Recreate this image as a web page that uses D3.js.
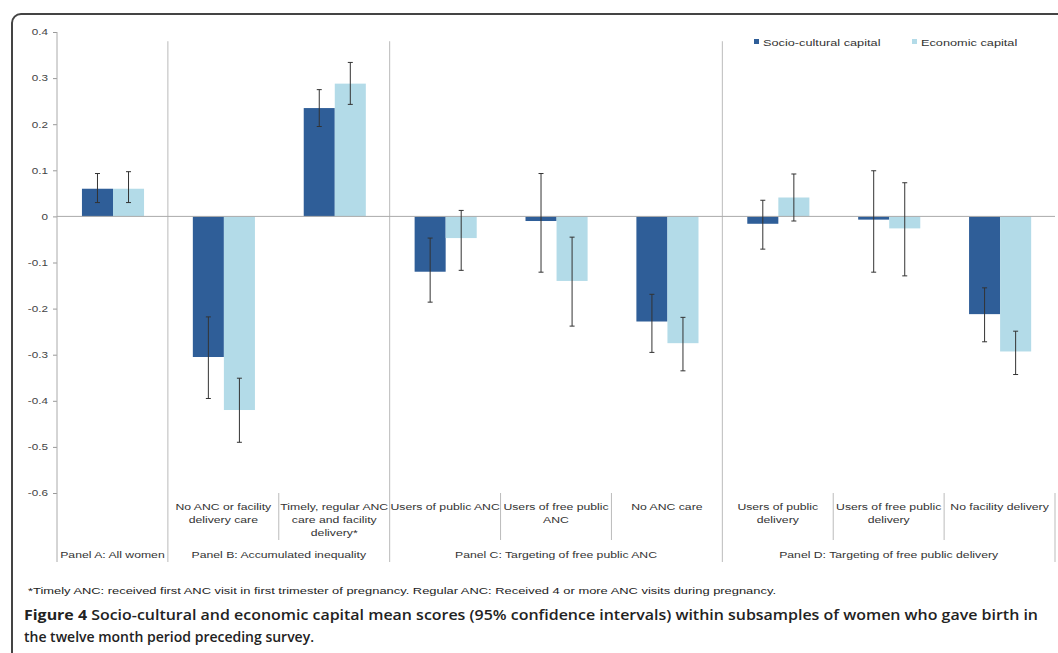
<!DOCTYPE html>
<html>
<head>
<meta charset="utf-8">
<script src="https://cdn.jsdelivr.net/npm/d3@7"></script>
<style>
  body { margin: 0; background: #fff; }
  svg { display: block; }
</style>
</head>
<body>
<div id="chart"></div>
<script>
// data
const categories = [
  "Panel A: All women",
  "No ANC or facility delivery care",
  "Timely, regular ANC care and facility delivery*",
  "Users of public ANC",
  "Users of free public ANC",
  "No ANC care",
  "Users of public delivery",
  "Users of free public delivery",
  "No facility delivery"
];
// lines shown under each category
const categoryLines = [
  [],
  ["No ANC or facility", "delivery care"],
  ["Timely, regular ANC", "care and facility", "delivery*"],
  ["Users of public ANC"],
  ["Users of free public", "ANC"],
  ["No ANC care"],
  ["Users of public", "delivery"],
  ["Users of free public", "delivery"],
  ["No facility delivery"]
];
const panelNames = [
  "Panel A: All women",
  "Panel B: Accumulated inequality",
  "Panel C: Targeting of free public ANC",
  "Panel D: Targeting of free public delivery"
];
const panelSizes = [1, 2, 3, 3];
const seriesNames = ["Socio-cultural capital", "Economic capital"];

const socioMean = [0.06, -0.305, 0.235, -0.12, -0.01, -0.228, -0.016, -0.007, -0.212];
const socioLow  = [0.03, -0.395, 0.195, -0.186, -0.121, -0.295, -0.071, -0.121, -0.272];
const socioHigh = [0.093, -0.218, 0.275, -0.047, 0.093, -0.169, 0.035, 0.099, -0.155];

const econMean = [0.06, -0.42, 0.288, -0.047, -0.14, -0.275, 0.041, -0.026, -0.293];
const econLow  = [0.03, -0.49, 0.243, -0.117, -0.238, -0.335, -0.01, -0.129, -0.343];
const econHigh = [0.097, -0.351, 0.334, 0.013, -0.045, -0.219, 0.092, 0.073, -0.249];

const yTicks = [0.4, 0.3, 0.2, 0.1, 0, -0.1, -0.2, -0.3, -0.4, -0.5, -0.6];

const footnote = "*Timely ANC: received first ANC visit in first trimester of pregnancy. Regular ANC: Received 4 or more ANC visits during pregnancy.";
const captionBold = "Figure 4";
const captionLine1 = " Socio-cultural and economic capital mean scores (95% confidence intervals) within subsamples of women who gave birth in";
const captionLine2 = "the twelve month period preceding survey.";

(function () {
  const W = 1058, H = 653;
  const colors = ["#2f5e98", "#b3dbe8"];
  const font = "'Liberation Sans', Arial, sans-serif";
  // the source image is stretched sideways, so chart text is widened
  const stretch = 1.3;

  const svg = d3.select("#chart").append("svg")
    .attr("width", W).attr("height", H);

  // figure frame with rounded corner, clipped by the page edge
  svg.append("rect")
    .attr("x", 12).attr("y", 14)
    .attr("width", 1080).attr("height", 720)
    .attr("rx", 9)
    .style("fill", "none")
    .style("stroke", "#444")
    .style("stroke-width", 2);

  const plotLeft = 57, plotRight = 1055, plotTop = 32, plotBottom = 493;
  const axisBottom = 562;

  const y = d3.scaleLinear().domain([-0.6, 0.4]).range([plotBottom, plotTop]);
  const x = d3.scaleBand().domain(categories).range([plotLeft, plotRight]).padding(0);
  const xs = d3.scaleBand().domain(seriesNames)
    .range([x.bandwidth() * 0.225, x.bandwidth() * 0.785]).padding(0);

  const g = svg.append("g");

  function label(parent, px, py, anchor, size) {
    return parent.append("text")
      .attr("transform", `translate(${px},${py}) scale(${stretch},1)`)
      .attr("text-anchor", anchor)
      .style("font-family", font)
      .style("font-size", size + "px")
      .style("fill", "#333");
  }

  // y axis
  const yAxis = g.append("g")
    .attr("transform", `translate(${plotLeft},0)`)
    .call(d3.axisLeft(y).tickValues(yTicks).tickSize(4)
      .tickFormat(d => d === 0 ? "0" : d.toFixed(1)));
  yAxis.select(".domain").remove();
  yAxis.selectAll(".tick line").style("stroke", "#999");
  yAxis.selectAll(".tick text")
    .attr("x", -7)
    .attr("transform", `scale(${stretch},1)`)
    .style("font-family", font)
    .style("font-size", "9px")
    .style("fill", "#444");
  g.append("line")
    .attr("x1", plotLeft).attr("x2", plotLeft)
    .attr("y1", y(0.4)).attr("y2", axisBottom)
    .style("stroke", "#aaa");

  // panel separators
  let idx = 0;
  const panelStarts = [];
  panelSizes.forEach(n => { panelStarts.push(idx); idx += n; });
  panelStarts.slice(1).forEach(i => {
    g.append("line")
      .attr("x1", x(categories[i])).attr("x2", x(categories[i]))
      .attr("y1", y(0.38)).attr("y2", axisBottom)
      .style("stroke", "#bbb");
  });
  g.append("line")
    .attr("x1", plotRight).attr("x2", plotRight)
    .attr("y1", plotBottom).attr("y2", axisBottom)
    .style("stroke", "#bbb");
  // category separators within panels
  categories.forEach((c, i) => {
    if (i === 0 || panelStarts.includes(i)) return;
    g.append("line")
      .attr("x1", x(c)).attr("x2", x(c))
      .attr("y1", plotBottom).attr("y2", 540)
      .style("stroke", "#bbb");
  });

  // bars
  const series = [
    { name: seriesNames[0], mean: socioMean, low: socioLow, high: socioHigh },
    { name: seriesNames[1], mean: econMean, low: econLow, high: econHigh }
  ];
  series.forEach((s, si) => {
    g.append("g").selectAll("rect")
      .data(categories)
      .join("rect")
      .attr("x", c => x(c) + xs(s.name))
      .attr("width", xs.bandwidth())
      .attr("y", (c, i) => y(Math.max(0, s.mean[i])))
      .attr("height", (c, i) => Math.abs(y(s.mean[i]) - y(0)))
      .style("fill", colors[si]);
  });

  // zero line
  g.append("line")
    .attr("x1", plotLeft).attr("x2", plotRight)
    .attr("y1", y(0)).attr("y2", y(0))
    .style("stroke", "#aaa");

  // error bars
  series.forEach(s => {
    const eg = g.append("g")
      .style("stroke", "#333")
      .style("stroke-width", 1);
    categories.forEach((c, i) => {
      const cx = x(c) + xs(s.name) + xs.bandwidth() / 2;
      eg.append("line")
        .attr("x1", cx).attr("x2", cx)
        .attr("y1", y(s.high[i])).attr("y2", y(s.low[i]));
      [s.high[i], s.low[i]].forEach(v => {
        eg.append("line")
          .attr("x1", cx - 2.5).attr("x2", cx + 2.5)
          .attr("y1", y(v)).attr("y2", y(v));
      });
    });
  });

  // category labels
  categories.forEach((c, i) => {
    const t = label(g, x(c) + x.bandwidth() / 2, 510, "middle", 9.4);
    categoryLines[i].forEach((line, li) => {
      t.append("tspan")
        .attr("x", 0)
        .attr("dy", li === 0 ? 0 : 13)
        .text(line);
    });
  });

  // panel labels
  panelNames.forEach((p, pi) => {
    const first = categories[panelStarts[pi]];
    const last = categories[panelStarts[pi] + panelSizes[pi] - 1];
    const cx = (x(first) + x(last) + x.bandwidth()) / 2;
    label(g, cx, 558, "middle", 9.4).text(p);
  });

  // legend
  const legendX = [754, 912];
  seriesNames.forEach((n, i) => {
    g.append("rect")
      .attr("x", legendX[i]).attr("y", 39)
      .attr("width", 5).attr("height", 5)
      .style("fill", colors[i]);
    label(g, legendX[i] + 9, 46, "start", 9.8).text(n);
  });

  // footnote and caption
  svg.append("text")
    .attr("x", 28).attr("y", 594)
    .attr("textLength", 748)
    .attr("lengthAdjust", "spacingAndGlyphs")
    .style("font-family", font)
    .style("font-size", "9px")
    .style("fill", "#222")
    .text(footnote);

  const cap = svg.append("text")
    .attr("x", 24).attr("y", 620)
    .attr("textLength", 1014)
    .attr("lengthAdjust", "spacingAndGlyphs")
    .style("font-family", "'Open Sans', sans-serif")
    .style("font-size", "14px")
    .style("fill", "#222");
  cap.append("tspan").style("font-weight", "bold").text(captionBold);
  cap.append("tspan").style("font-weight", 600).text(captionLine1);

  svg.append("text")
    .attr("x", 24).attr("y", 642)
    .attr("textLength", 290)
    .attr("lengthAdjust", "spacingAndGlyphs")
    .style("font-family", "'Open Sans', sans-serif")
    .style("font-size", "14px")
    .style("font-weight", 600)
    .style("fill", "#222")
    .text(captionLine2);
})();
</script>
</body>
</html>
